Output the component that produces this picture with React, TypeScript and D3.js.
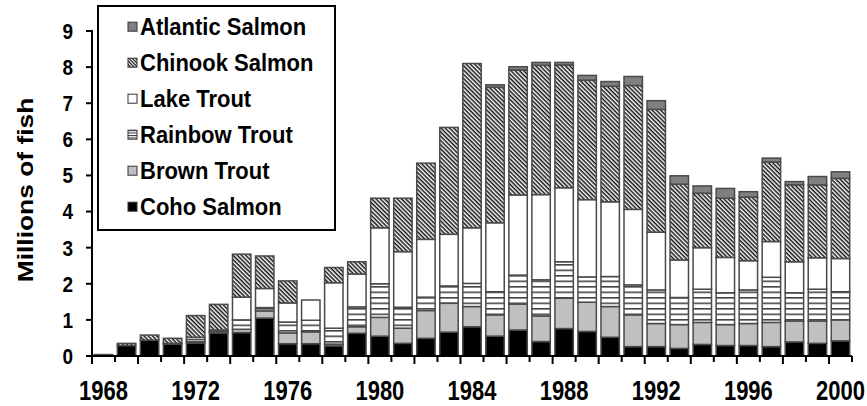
import React from 'react';
import * as d3 from 'd3';

const years = d3.range(1968, 2001).map(String);

// millions of fish stocked
const coho = [0.04, 0.29, 0.44, 0.33, 0.36, 0.63, 0.65, 1.05, 0.34, 0.34, 0.28, 0.63, 0.55, 0.35, 0.49, 0.66, 0.81, 0.55, 0.72, 0.40, 0.76, 0.68, 0.52, 0.26, 0.26, 0.21, 0.32, 0.29, 0.29, 0.26, 0.39, 0.35, 0.42];
const brown = [0, 0, 0, 0, 0.04, 0.02, 0.09, 0.20, 0.30, 0.33, 0.05, 0.18, 0.52, 0.42, 0.77, 0.80, 0.56, 0.59, 0.72, 0.71, 0.84, 0.81, 0.85, 0.88, 0.64, 0.66, 0.61, 0.58, 0.61, 0.67, 0.58, 0.62, 0.58];
const rainbow = [0, 0, 0, 0.02, 0.06, 0.04, 0.26, 0.09, 0.30, 0.32, 0.44, 0.55, 0.93, 0.58, 0.37, 0.48, 0.64, 0.64, 0.80, 1.00, 1.01, 0.70, 0.83, 0.83, 0.93, 0.75, 0.92, 0.88, 0.93, 1.25, 0.78, 0.88, 0.78];
const lake = [0, 0, 0, 0, 0.06, 0.03, 0.63, 0.53, 0.53, 0.56, 1.26, 0.91, 1.55, 1.54, 1.60, 1.43, 1.54, 1.91, 2.22, 2.36, 2.05, 2.14, 2.07, 2.09, 1.60, 1.04, 1.15, 0.98, 0.81, 0.99, 0.86, 0.87, 0.92];
const chinook = [0, 0.06, 0.14, 0.14, 0.60, 0.71, 1.19, 0.90, 0.61, 0, 0.42, 0.34, 0.82, 1.48, 2.11, 2.96, 4.55, 3.75, 3.46, 3.58, 3.40, 3.31, 3.20, 3.43, 3.40, 2.10, 1.51, 1.64, 1.76, 2.20, 2.13, 2.02, 2.22];
const atlantic = [0, 0, 0, 0, 0, 0, 0, 0, 0, 0, 0, 0, 0, 0, 0, 0, 0, 0.07, 0.09, 0.08, 0.07, 0.13, 0.13, 0.25, 0.24, 0.23, 0.20, 0.27, 0.15, 0.11, 0.09, 0.23, 0.18];

const seriesNames = ['Coho Salmon', 'Brown Trout', 'Rainbow Trout', 'Lake Trout', 'Chinook Salmon', 'Atlantic Salmon'];
const yTicks = d3.range(0, 10);
const xLabels = ['1968', '1972', '1976', '1980', '1984', '1988', '1992', '1996', '2000'];

const fills: Record<string, string> = {
  'Coho Salmon': '#000',
  'Brown Trout': '#c0c0c0',
  'Rainbow Trout': 'url(#lines)',
  'Lake Trout': '#fff',
  'Chinook Salmon': 'url(#hatch)',
  'Atlantic Salmon': '#808080',
};

const font = '"Liberation Sans", Arial, sans-serif';

export default function App() {
  const width = 867;
  const height = 406;
  const margin = { top: 31, right: 15, bottom: 50, left: 92 };

  const table = years.map((yr, i) => ({
    year: yr,
    'Coho Salmon': coho[i],
    'Brown Trout': brown[i],
    'Rainbow Trout': rainbow[i],
    'Lake Trout': lake[i],
    'Chinook Salmon': chinook[i],
    'Atlantic Salmon': atlantic[i],
  }));
  const stacked = d3.stack<any>().keys(seriesNames)(table);

  const x = d3.scaleBand()
    .domain(years)
    .range([margin.left, width - margin.right])
    .paddingInner(0.2)
    .paddingOuter(0.1);
  const step = x.step();
  const y = d3.scaleLinear().domain([0, 9]).range([height - margin.bottom, margin.top]);

  const y0 = y(0);
  const tickXs = d3.range(0, years.length + 1).map(i => margin.left + i * step);

  const legendItems = seriesNames.slice().reverse();

  return (
    <svg width={width} height={height} style={{ position: 'absolute', left: 0, top: 0, background: '#fff' }}>
      <defs>
        <pattern id="hatch" width="3" height="3" patternUnits="userSpaceOnUse" patternTransform="rotate(45)">
          <rect width="3" height="3" fill="#fff" />
          <rect width="3" height="1.5" fill="#111" />
        </pattern>
        <pattern id="lines" width="10" height="5.5" patternUnits="userSpaceOnUse">
          <rect width="10" height="5.5" fill="#fff" />
          <rect y="0" width="10" height="1.6" fill="#444" />
        </pattern>
        <pattern id="hatchSmall" width="2.4" height="2.4" patternUnits="userSpaceOnUse" patternTransform="rotate(45)">
          <rect width="2.4" height="2.4" fill="#fff" />
          <rect width="2.4" height="1.2" fill="#111" />
        </pattern>
        <pattern id="linesSmall" width="10" height="2.5" patternUnits="userSpaceOnUse">
          <rect width="10" height="2.5" fill="#fff" />
          <rect width="10" height="1" fill="#333" />
        </pattern>
      </defs>

      {/* bars */}
      {stacked.map(s => (
        <g key={s.key} fill={fills[s.key]} stroke="#4a4a4a" strokeWidth={1.5}>
          {s.map(d => {
            const h = y(d[0]) - y(d[1]);
            if (h <= 0) return null;
            return (
              <rect
                key={d.data.year}
                x={x(d.data.year)}
                y={y(d[1])}
                width={x.bandwidth()}
                height={h}
              />
            );
          })}
        </g>
      ))}

      {/* axes */}
      <g stroke="#000" strokeWidth={2}>
        <line x1={margin.left} x2={margin.left} y1={y(9) - 1} y2={y0 + 1} />
        <line x1={margin.left - 6} x2={width - margin.right} y1={y0} y2={y0} />
        {yTicks.map(t => (
          <line key={t} x1={margin.left - 6} x2={margin.left} y1={y(t)} y2={y(t)} />
        ))}
        {tickXs.map((tx, i) => (
          <line key={i} x1={tx} x2={tx} y1={y0} y2={y0 + (i % 2 ? 6 : 8)} />
        ))}
      </g>

      <g fontFamily={font} fontWeight="bold" fill="#000">
        {yTicks.map(t => (
          <text key={t} transform={`translate(73,${y(t)}) scale(1,1.15)`} textAnchor="end" dy="0.36em" fontSize={19}>
            {t}
          </text>
        ))}
        {xLabels.map(l => (
          <text key={l} transform={`translate(${x(l)! + x.bandwidth() / 2},400) scale(1,1.25)`} textAnchor="middle" fontSize={22}>
            {l}
          </text>
        ))}
        <text transform="translate(33,190) rotate(-90) scale(1.2,1)" textAnchor="middle" fontSize={22}>
          Millions of fish
        </text>
      </g>

      {/* legend */}
      <g>
        <rect x={98} y={6} width={237} height={224} fill="#fff" stroke="#000" strokeWidth={2} />
        {legendItems.map((name, i) => {
          const cy = 26.7 + i * 36;
          let f = fills[name];
          if (name === 'Chinook Salmon') f = 'url(#hatchSmall)';
          if (name === 'Rainbow Trout') f = 'url(#linesSmall)';
          return (
            <g key={name}>
              <rect x={128} y={cy - 4.5} width={9} height={9} fill={f} stroke="#333" strokeWidth={1} />
              <text transform={`translate(140,${cy + 7.8}) scale(1,1.05)`} fontFamily={font} fontWeight="bold" fontSize={22} fill="#000">
                {name}
              </text>
            </g>
          );
        })}
      </g>
    </svg>
  );
}
